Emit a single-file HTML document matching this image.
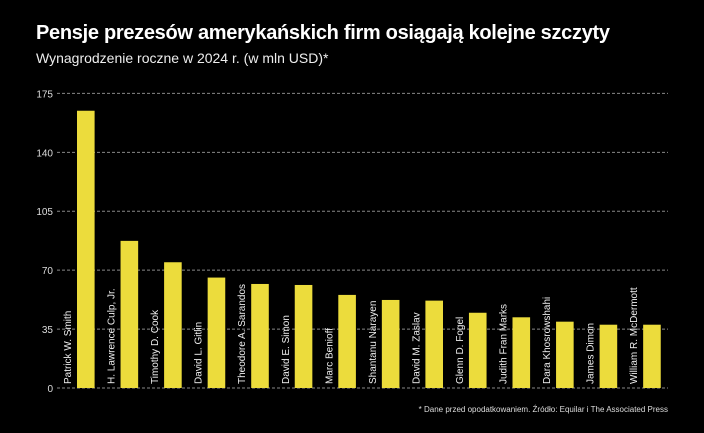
<!DOCTYPE html>
<html><head><meta charset="utf-8"><style>
html,body{margin:0;padding:0;background:#000;}
body{width:704px;height:433px;overflow:hidden;font-family:"Liberation Sans",sans-serif;color:#fff;position:relative}
#t{position:absolute;left:36px;top:22px;font-size:20px;font-weight:bold;letter-spacing:-0.3px}
#s{position:absolute;left:36px;top:50px;font-size:14px;color:#eee}
</style></head><body>
<div id="t">Pensje prezesów amerykańskich firm osiągają kolejne szczyty</div>
<div id="s">Wynagrodzenie roczne w 2024 r. (w mln USD)*</div>
<svg id="c" width="704" height="433" style="position:absolute;left:0;top:0"></svg>
<script>
const categories=["Patrick W. Smith","H. Lawrence Culp, Jr.","Timothy D. Cook","David L. Gitlin","Theodore A. Sarandos","David E. Simon","Marc Benioff","Shantanu Narayen","David M. Zaslav","Glenn D. Fogel","Judith Fran Marks","Dara Khosrowshahi","James Dimon","William R. McDermott"];
const values=[164.7,87.4,74.7,65.6,61.8,61.2,55.3,52.3,51.9,44.7,42,39.4,37.6,37.6];
const ticks=[0,35,70,105,140,175];
const ns="http://www.w3.org/2000/svg";
const svg=document.getElementById('c');
const y=v=>388-v*(294.6/175);
const x=i=>77+i*43.55;
function el(t,a){const e=document.createElementNS(ns,t);for(const k in a)e.setAttribute(k,a[k]);svg.appendChild(e);return e;}
ticks.forEach(t=>{
 const l=el('line',{x1:57,x2:668,y1:y(t),y2:y(t),stroke:'#888','stroke-width':1,'stroke-dasharray':'3,2'});
 
 
 const tx=el('text',{x:53,y:y(t)+4,'text-anchor':'end','font-size':10,fill:'#ddd'});
 tx.textContent=t;
 
 
});
values.forEach((v,i)=>{
 const r=el('rect',{x:x(i),y:y(v),width:17.6,height:y(0)-y(v),fill:'#ecdc3c'});
 
 
 const lx=x(i)-6, ly=384;
 const t=el('text',{x:lx,y:ly,transform:`rotate(-90 ${lx} ${ly})`,'font-size':10,fill:'#eee'});
 t.textContent=categories[i];
 
 
});
const f=el('text',{x:668,y:412,'text-anchor':'end','font-size':8,fill:'#ddd'});
f.textContent="* Dane przed opodatkowaniem. Źródło: Equilar i The Associated Press";


</script>
</body></html>
